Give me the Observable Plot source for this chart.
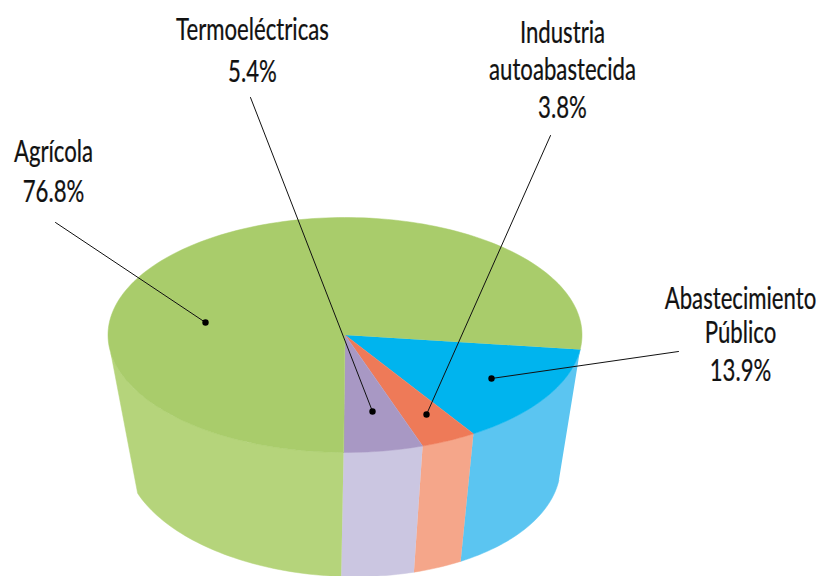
<!DOCTYPE html>
<html lang="es">
<head>
<meta charset="utf-8">
<script src="https://cdn.jsdelivr.net/npm/d3@7"></script>
<script src="https://cdn.jsdelivr.net/npm/@observablehq/plot@0.6"></script>
<style>
html,body{margin:0;padding:0;background:#fff;overflow:hidden}
svg{display:block}
</style>
</head>
<body>
<div id="chart"></div>
<script>
// Data, clockwise from the right edge of the pie
const categories = ["Abastecimiento Público", "Industria autoabastecida", "Termoeléctricas", "Agrícola"];
const shares = [13.9, 3.8, 5.4, 76.8];
const labelLines = [
  ["Abastecimiento", "Público", "13.9%"],
  ["Industria", "autoabastecida", "3.8%"],
  ["Termoeléctricas", "5.4%"],
  ["Agrícola", "76.8%"]
];

// Appearance and layout of the oblique view
const topColors = ["#00b4ee", "#ee7a58", "#a898c4", "#a9cc6b"];
const wallColors = ["#5bc5f1", "#f5a68a", "#cbc6e1", "#b5d47b"];
const startAngle = 7.1;
const topDisc = {cx: 344.5, cy: 334.5, rx: 237, ry: 117.5};
const baseDisc = {cx: 342, cy: 459, rx: 218, ry: 117, tilt: 0.03};
const wallEnd = {top: 171, base: 160};
const labelLayout = [
  {x: 740, ys: [299, 333, 371]},
  {x: 562, ys: [33, 70, 108]},
  {x: 252, ys: [30, 72]},
  {x: 53, ys: [152, 192]}
];
const leaderLayout = [
  {from: [678, 351], to: [491, 378]},
  {from: [550, 135], to: [426, 414]},
  {from: [250, 97], to: [372, 411]},
  {from: [55, 222], to: [205, 322]}
];
const textCondense = 0.74;

const rad = d => d * Math.PI / 180;
const onDisc = (disc, a) => {
  const x = disc.cx + disc.rx * Math.cos(rad(a));
  const y = disc.cy + disc.ry * Math.sin(rad(a)) + (disc.tilt || 0) * (x - disc.cx);
  return {x, y};
};
const arc = (disc, a0, a1) => {
  const n = Math.max(2, Math.ceil(Math.abs(a1 - a0) / 1.5));
  return d3.range(n + 1).map(i => onDisc(disc, a0 + (a1 - a0) * i / n));
};

const total = d3.sum(shares);
let cumulative = 0;
const slices = categories.map((name, i) => {
  const a0 = startAngle + cumulative / total * 360;
  cumulative += shares[i];
  const a1 = startAngle + cumulative / total * 360;
  return {name, a0, a1, i};
});

const polygons = [];
for (const s of slices) {
  const wallTopEnd = s.a1 > 180 ? wallEnd.top : s.a1;
  const wallBaseEnd = s.a1 > 180 ? wallEnd.base : s.a1;
  const wall = [...arc(topDisc, s.a0, wallTopEnd), ...arc(baseDisc, wallBaseEnd, s.a0)];
  for (const p of wall) polygons.push({...p, key: "wall " + s.name});
}
for (const s of slices) {
  const top = [{x: topDisc.cx, y: topDisc.cy}, ...arc(topDisc, s.a0, s.a1)];
  for (const p of top) polygons.push({...p, key: "top " + s.name});
}
const colorDomain = [...categories.map(c => "wall " + c), ...categories.map(c => "top " + c)];
const colorRange = [...wallColors, ...topColors];

const leaderRows = leaderLayout.flatMap((l, i) => [
  {x: l.from[0], y: l.from[1], i},
  {x: l.to[0], y: l.to[1], i}
]);
const dotRows = leaderLayout.map(l => ({x: l.to[0], y: l.to[1]}));
const textRows = labelLines.flatMap((lines, i) =>
  lines.map((text, j) => ({text, x: labelLayout[i].x, y: labelLayout[i].ys[j]})));

// Condense each label horizontally around its own anchor
function condense(index, scales, values, dimensions, context, next) {
  const g = next(index, scales, values, dimensions, context);
  g.querySelectorAll("text").forEach(t => {
    const tr = t.getAttribute("transform") || "";
    t.setAttribute("transform", `${tr} scale(${textCondense},1)`);
  });
  return g;
}

const chart = Plot.plot({
  width: 817,
  height: 576,
  margin: 0,
  x: {domain: [0, 817], range: [0, 817], axis: null},
  y: {domain: [0, 576], range: [0, 576], axis: null},
  color: {domain: colorDomain, range: colorRange},
  style: {background: "#fff"},
  marks: [
    Plot.line(polygons, {x: "x", y: "y", z: "key", fill: "key", stroke: "key", strokeWidth: 0.5, curve: "linear"}),
    Plot.line(leaderRows, {x: "x", y: "y", z: "i", stroke: "#111", strokeWidth: 1}),
    Plot.dot(dotRows, {x: "x", y: "y", r: 3.2, fill: "#000"}),
    Plot.text(textRows, {
      x: "x", y: "y", text: "text",
      fontFamily: "Lato, 'Open Sans', sans-serif",
      fontSize: 30, fill: "#111", stroke: "#111", strokeWidth: 0.25,
      textAnchor: "middle", lineAnchor: "middle",
      render: condense
    })
  ]
});
document.getElementById("chart").append(chart);
</script>
</body>
</html>
